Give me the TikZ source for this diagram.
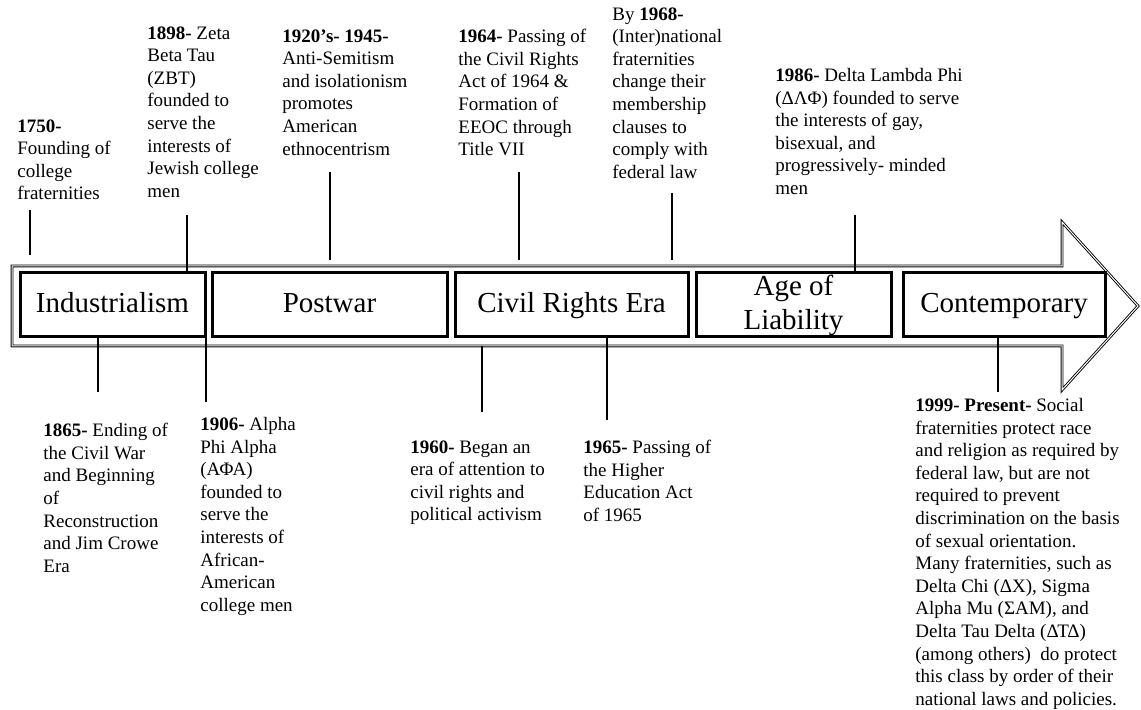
\documentclass[tikz,border=0pt]{standalone}
\usepackage{fontspec}
\setmainfont{Liberation Serif}

\begin{document}
\begin{tikzpicture}[x=0.5pt, y=-0.5pt,
  era/.style={draw, line width=1.5pt, inner sep=0pt, minimum height=32pt, align=center, font=\fontsize{14.5}{17}\selectfont},
  oneline/.style={text height=10.5pt, text depth=3pt},
  evt/.style={anchor=north west, inner sep=0pt, align=left, font=\fontsize{9.5}{11.3}\selectfont},
  tick/.style={line width=0.7pt}]
\useasboundingbox (0,0) rectangle (1141,710);
\draw[double, double distance=0.5pt, line width=0.45pt] (12,266) -- (1062,266) -- (1062,222) -- (1138,306) -- (1062,390) -- (1062,346) -- (12,346) -- cycle;
\node[era, oneline, minimum width=92.5pt] (ind) at (112.5,305) {Industrialism};
\node[era, oneline, minimum width=117.5pt] (post) at (329.5,305) {Postwar};
\node[era, oneline, minimum width=116.5pt] (civ) at (571.5,305) {Civil Rights Era};
\node[era, minimum width=97.5pt] (age) at (793.5,305) {Age of\\Liability};
\node[era, oneline, minimum width=101pt] (cont) at (1004,305) {Contemporary};

\node[evt] (e1750) at (17,119) {\textbf{1750-}\\Founding of\\college\\fraternities};
\node[evt] (e1898) at (147,26) {\textbf{1898-} Zeta\\Beta Tau\\(ZBT)\\founded to\\serve the\\interests of\\Jewish college\\men};
\node[evt] (e1920) at (282,29) {\textbf{1920’s- 1945-}\\Anti-Semitism\\and isolationism\\promotes\\American\\ethnocentrism};
\node[evt] (e1964) at (458,29) {\textbf{1964-} Passing of\\the Civil Rights\\Act of 1964 \&\\Formation of\\EEOC through\\Title VII};
\node[evt] (e1968) at (612,7) {By \textbf{1968-}\\(Inter)national\\fraternities\\change their\\membership\\clauses to\\comply with\\federal law};
\node[evt] (e1986) at (775,68) {\textbf{1986-} Delta Lambda Phi\\(ΔΛΦ) founded to serve\\the interests of gay,\\bisexual, and\\progressively- minded\\men};
\node[evt] (e1865) at (43,423) {\textbf{1865-} Ending of\\the Civil War\\and Beginning\\of\\Reconstruction\\and Jim Crowe\\Era};
\node[evt] (e1906) at (200,417) {\textbf{1906-} Alpha\\Phi Alpha\\(ΑΦΑ)\\founded to\\serve the\\interests of\\African-\\American\\college men};
\node[evt] (e1960) at (410,440) {\textbf{1960-} Began an\\era of attention to\\civil rights and\\political activism};
\node[evt] (e1965) at (583,440) {\textbf{1965-} Passing of\\the Higher\\Education Act\\of 1965};
\node[evt] (e1999) at (915,398) {\textbf{1999- Present-} Social\\fraternities protect race\\and religion as required by\\federal law, but are not\\required to prevent\\discrimination on the basis\\of sexual orientation.\\Many fraternities, such as\\Delta Chi (ΔΧ), Sigma\\Alpha Mu (ΣΑΜ), and\\Delta Tau Delta (ΔΤΔ)\\(among others)~ do protect\\this class by order of their\\national laws and policies.};

\coordinate (t1750) at (30,210);
\coordinate (b1750) at (30,255);
\coordinate (t1898) at (187,215);
\coordinate (t1920) at (330,172);
\coordinate (b1920) at (330,260);
\coordinate (t1964) at (519,172);
\coordinate (b1964) at (519,260);
\coordinate (t1968) at (672,193);
\coordinate (b1968) at (672,260);
\coordinate (t1986) at (855,215);
\coordinate (b1865) at (98,392);
\coordinate (b1906) at (206,402);
\coordinate (t1960) at (482,346);
\coordinate (b1960) at (482,412);
\coordinate (b1965) at (607,420);
\coordinate (b1999) at (998,392);
\draw[tick] (t1750) -- (b1750);
\draw[tick] (t1898) -- (t1898 |- ind.north);
\draw[tick] (t1920) -- (b1920);
\draw[tick] (t1964) -- (b1964);
\draw[tick] (t1968) -- (b1968);
\draw[tick] (t1986) -- (t1986 |- age.north);
\draw[tick] (b1865 |- ind.south) -- (b1865);
\draw[tick] (b1906 |- ind.south) -- (b1906);
\draw[tick] (t1960) -- (b1960);
\draw[tick] (b1965 |- civ.south) -- (b1965);
\draw[tick] (b1999 |- cont.south) -- (b1999);
\end{tikzpicture}
\end{document}
